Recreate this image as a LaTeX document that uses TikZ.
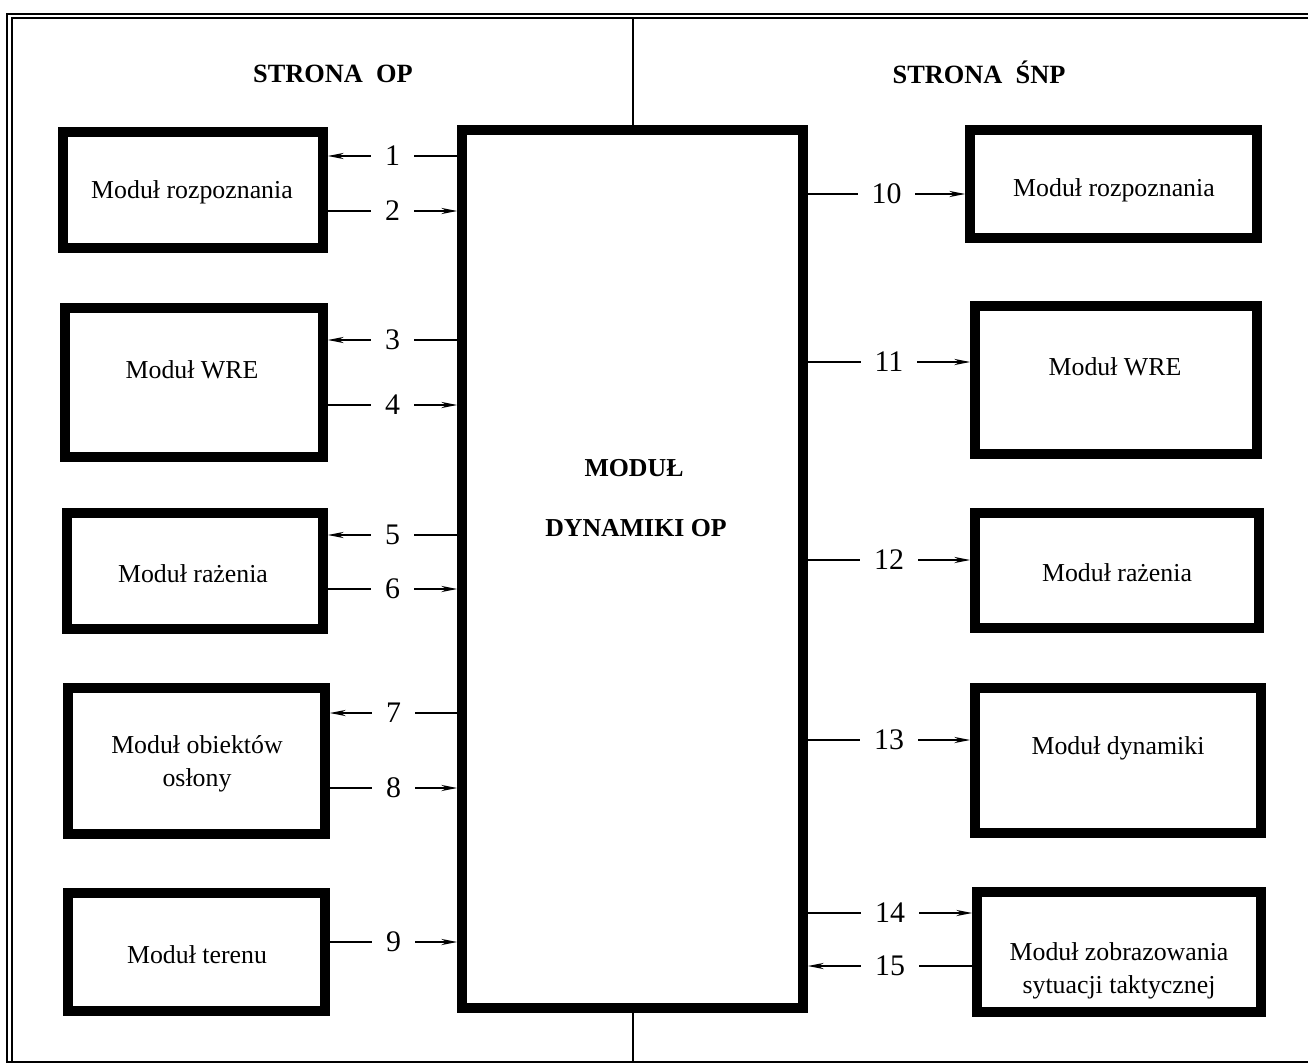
\documentclass[tikz,border=0pt]{standalone}
\usepackage{fontspec}
\setmainfont{Liberation Serif}
\usetikzlibrary{arrows.meta}
\begin{document}
\begin{tikzpicture}[x=0.02cm,y=-0.02cm,
  modbox/.style={draw,line width=5.6pt,fill=none,inner sep=0pt},
  modtext/.style={align=center,inner sep=1pt,font=\fontsize{14.7}{18.5}\selectfont},
  lbl/.style={fill=white,inner xsep=8pt,inner ysep=2pt,font=\fontsize{17}{17}\selectfont},
  conn/.style={line width=0.6pt,-{Stealth[length=9pt,width=3.5pt]}},
  connb/.style={line width=0.6pt,{Stealth[length=9pt,width=3.5pt]}-},
  heading/.style={font=\bfseries\fontsize{15}{18}\selectfont},
  frame/.style={line width=1.1pt}]
\useasboundingbox (0,0) rectangle (1308,1064);
% frame
\draw[frame] (1308,14) -- (7,14) -- (7,1062) -- (1308,1062);
\draw[frame] (1308,18) -- (12,18) -- (12,1062);
% headings
\node[heading] (hop) at (333,74) {STRONA\ \ OP};
\node[heading] (hsnp) at (979,72) {STRONA\ \ ŚNP};
% central box
\node[modbox,minimum width=6.82cm,minimum height=17.56cm] (C) at (632.5,569) {};
\node[font=\bfseries\fontsize{14.7}{18}\selectfont] (c1) at (634,468) {MODUŁ};
\node[font=\bfseries\fontsize{14.7}{18}\selectfont] (c2) at (636,528) {DYNAMIKI OP};
% divider
\coordinate (dtop) at (633,18);
\coordinate (dbot) at (633,1062);
\draw[line width=1pt] (dtop) -- (C.north -| dtop);
\draw[line width=1pt] (C.south -| dbot) -- (dbot);
% left boxes
\node[modbox,minimum width=5.2cm,minimum height=2.32cm] (L1) at (193,190) {};
\node[modbox,minimum width=5.16cm,minimum height=2.98cm] (L2) at (194,382.5) {};
\node[modbox,minimum width=5.12cm,minimum height=2.32cm] (L3) at (195,571) {};
\node[modbox,minimum width=5.14cm,minimum height=2.92cm] (L4) at (196.5,761) {};
\node[modbox,minimum width=5.14cm,minimum height=2.36cm] (L5) at (196.5,952) {};
\node[modtext] (tL1) at (192,192) {Moduł rozpoznania};
\node[modtext] (tL2) at (192,370) {Moduł WRE};
\node[modtext] (tL3) at (193,574) {Moduł rażenia};
\node[modtext] (tL4) at (197,764) {Moduł obiektów\\osłony};
\node[modtext] (tL5) at (197,955) {Moduł terenu};
% right boxes
\node[modbox,minimum width=5.74cm,minimum height=2.16cm] (R1) at (1113.5,184) {};
\node[modbox,minimum width=5.64cm,minimum height=2.96cm] (R2) at (1116,380) {};
\node[modbox,minimum width=5.68cm,minimum height=2.30cm] (R3) at (1117,570.5) {};
\node[modbox,minimum width=5.72cm,minimum height=2.90cm] (R4) at (1118,760.5) {};
\node[modbox,minimum width=5.68cm,minimum height=2.40cm] (R5) at (1119,952) {};
\node[modtext] (tR1) at (1114,190) {Moduł rozpoznania};
\node[modtext] (tR2) at (1115,367) {Moduł WRE};
\node[modtext] (tR3) at (1117,573) {Moduł rażenia};
\node[modtext] (tR4) at (1118,748) {Moduł dynamiki};
\node[modtext] (tR5) at (1119,971) {Moduł zobrazowania\\sytuacji taktycznej};
% left connectors
\draw[connb] (L1.east |- 0,156) -- node[lbl]{1} (C.west |- 0,156);
\draw[conn]  (L1.east |- 0,211) -- node[lbl]{2} (C.west |- 0,211);
\draw[connb] (L2.east |- 0,340) -- node[lbl]{3} (C.west |- 0,340);
\draw[conn]  (L2.east |- 0,405) -- node[lbl]{4} (C.west |- 0,405);
\draw[connb] (L3.east |- 0,535) -- node[lbl]{5} (C.west |- 0,535);
\draw[conn]  (L3.east |- 0,589) -- node[lbl]{6} (C.west |- 0,589);
\draw[connb] (L4.east |- 0,713) -- node[lbl]{7} (C.west |- 0,713);
\draw[conn]  (L4.east |- 0,788) -- node[lbl]{8} (C.west |- 0,788);
\draw[conn]  (L5.east |- 0,942) -- node[lbl]{9} (C.west |- 0,942);
% right connectors
\draw[conn]  (C.east |- 0,194) -- node[lbl]{10} (R1.west |- 0,194);
\draw[conn]  (C.east |- 0,362) -- node[lbl]{11} (R2.west |- 0,362);
\draw[conn]  (C.east |- 0,560) -- node[lbl]{12} (R3.west |- 0,560);
\draw[conn]  (C.east |- 0,740) -- node[lbl]{13} (R4.west |- 0,740);
\draw[conn]  (C.east |- 0,913) -- node[lbl]{14} (R5.west |- 0,913);
\draw[connb] (C.east |- 0,966) -- node[lbl]{15} (R5.west |- 0,966);
\end{tikzpicture}
\end{document}
